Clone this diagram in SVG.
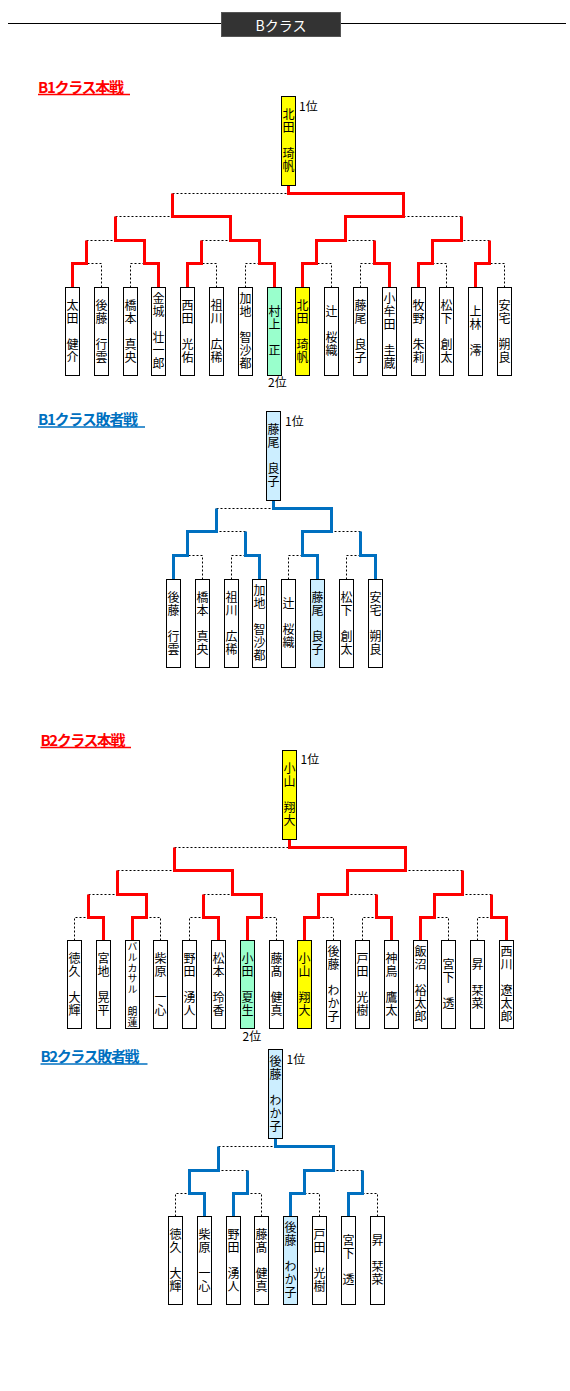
<svg xmlns="http://www.w3.org/2000/svg" width="570" height="1391" viewBox="0 0 570 1391">
<style>
.dot{stroke:#000;stroke-width:1;stroke-dasharray:2,2;fill:none}
.r{stroke:#f00;stroke-width:3;fill:none;stroke-linejoin:miter}
.b{stroke:#0070c0;stroke-width:3;fill:none;stroke-linejoin:miter}
.bx{stroke:#000;stroke-width:1;fill:#fff}
.y{fill:#ffff00}.g{fill:#99ffcc}.lb{fill:#cceeff}
.nm{font-family:"Noto Sans CJK JP","Noto Sans CJK SC",sans-serif;font-size:12px;writing-mode:vertical-rl;text-anchor:middle;letter-spacing:1px;fill:#000}
.sm{font-size:10px;letter-spacing:0.8px}
.rk{font-family:"Noto Sans CJK JP",sans-serif;font-size:12px;fill:#000}
.tt{font-family:"Noto Sans CJK JP",sans-serif;font-size:15px;font-weight:bold}
</style>
<rect width="570" height="1391" fill="#fff"/>
<g id="header">
<line x1="8" y1="23.5" x2="566" y2="23.5" stroke="#000" stroke-width="1"/>
<rect x="221.5" y="12.5" width="119" height="24" fill="#333" stroke="#555"/>
<text x="281" y="30.5" text-anchor="middle" font-family="Noto Sans CJK JP,sans-serif" font-size="14" fill="#fff">Bクラス</text>
</g>

<g id="title-b1-main">
<text class="tt" x="38" y="92.5" fill="#f00" textLength="86" lengthAdjust="spacing">B1クラス本戦</text>
<line x1="38" y1="94.5" x2="130" y2="94.5" stroke="#f00" stroke-width="1.5"/>
</g>
<g id="title-b1-loser">
<text class="tt" x="38" y="425" fill="#0070c0" textLength="100" lengthAdjust="spacing">B1クラス敗者戦</text>
<line x1="38" y1="427" x2="145" y2="427" stroke="#0070c0" stroke-width="1.5"/>
</g>
<g id="title-b2-main">
<text class="tt" x="40.5" y="745.5" fill="#f00" textLength="85" lengthAdjust="spacing">B2クラス本戦</text>
<line x1="40.5" y1="747.5" x2="131" y2="747.5" stroke="#f00" stroke-width="1.5"/>
</g>
<g id="title-b2-loser">
<text class="tt" x="40.5" y="1062" fill="#0070c0" textLength="99" lengthAdjust="spacing">B2クラス敗者戦</text>
<line x1="40.5" y1="1064" x2="147.5" y2="1064" stroke="#0070c0" stroke-width="1.5"/>
</g>

<!-- ============ B1 main connectors ============ -->
<g id="connectors-b1-main">
<path class="dot" d="M101.5 287.5V263.5H86.5M130.5 287.5V263.5H144.5M216.5 287.5V263.5H201.5M245.5 287.5V263.5H259.5M331.5 287.5V263.5H316.5M360.5 287.5V263.5H374.5M446.5 287.5V263.5H432.5M504.5 287.5V263.5H489.5"/>
<path class="dot" d="M86.5 240.5H115.5M201.5 240.5H230.5M374.5 240.5H345.5M489.5 240.5H461.5M115.5 216.5H172.5M461.5 216.5H403.5M172.5 193.5H288.5"/>
<path class="r" d="M72.5 287.5V263.5H86.5V240.5"/>
<path class="r" d="M158.5 287.5V263.5H144.5V240.5H115.5V216.5"/>
<path class="r" d="M187.5 287.5V263.5H201.5V240.5"/>
<path class="r" d="M274.5 287.5V263.5H259.5V240.5H230.5V216.5H172.5V193.5"/>
<path class="r" d="M302.5 287.5V263.5H316.5V240.5H345.5V216.5H403.5V193.5H288.5V185.5"/>
<path class="r" d="M389.5 287.5V263.5H374.5V240.5"/>
<path class="r" d="M418.5 287.5V263.5H432.5V240.5H461.5V216.5"/>
<path class="r" d="M475.5 287.5V263.5H489.5V240.5"/>
</g>

<g id="b1m-champion"><rect class="bx y" x="281.5" y="96.5" width="14" height="89"/><text class="nm" x="288.5" y="141">北田　琦帆</text><text class="rk" x="299" y="110.5">1位</text></g>
<g id="b1m-p0"><rect class="bx" x="65.5" y="287.5" width="14" height="88"/><text class="nm" x="72.5" y="331.5">太田　健介</text></g>
<g id="b1m-p1"><rect class="bx" x="94.5" y="287.5" width="14" height="88"/><text class="nm" x="101.5" y="331.5">後藤　行雲</text></g>
<g id="b1m-p2"><rect class="bx" x="123.5" y="287.5" width="14" height="88"/><text class="nm" x="130.5" y="331.5">橋本　真央</text></g>
<g id="b1m-p3"><rect class="bx" x="151.5" y="287.5" width="14" height="88"/><text class="nm" x="158.5" y="331.5">金城　壮一郎</text></g>
<g id="b1m-p4"><rect class="bx" x="180.5" y="287.5" width="14" height="88"/><text class="nm" x="187.5" y="331.5">西田　光佑</text></g>
<g id="b1m-p5"><rect class="bx" x="209.5" y="287.5" width="14" height="88"/><text class="nm" x="216.5" y="331.5">祖川　広稀</text></g>
<g id="b1m-p6"><rect class="bx" x="238.5" y="287.5" width="14" height="88"/><text class="nm" x="245.5" y="331.5">加地　智沙都</text></g>
<g id="b1m-p7"><rect class="bx g" x="267.5" y="287.5" width="14" height="88"/><text class="nm" x="274.5" y="331.5">村上　正</text><text class="rk" x="268" y="386.5">2位</text></g>
<g id="b1m-p8"><rect class="bx y" x="295.5" y="287.5" width="14" height="88"/><text class="nm" x="302.5" y="331.5">北田　琦帆</text></g>
<g id="b1m-p9"><rect class="bx" x="324.5" y="287.5" width="14" height="88"/><text class="nm" x="331.5" y="331.5">辻　桜織</text></g>
<g id="b1m-p10"><rect class="bx" x="353.5" y="287.5" width="14" height="88"/><text class="nm" x="360.5" y="331.5">藤尾　良子</text></g>
<g id="b1m-p11"><rect class="bx" x="382.5" y="287.5" width="14" height="88"/><text class="nm" x="389.5" y="331.5">小牟田　圭蔵</text></g>
<g id="b1m-p12"><rect class="bx" x="411.5" y="287.5" width="14" height="88"/><text class="nm" x="418.5" y="331.5">牧野　朱莉</text></g>
<g id="b1m-p13"><rect class="bx" x="439.5" y="287.5" width="14" height="88"/><text class="nm" x="446.5" y="331.5">松下　創太</text></g>
<g id="b1m-p14"><rect class="bx" x="468.5" y="287.5" width="14" height="88"/><text class="nm" x="475.5" y="331.5">上林　澪</text></g>
<g id="b1m-p15"><rect class="bx" x="497.5" y="287.5" width="14" height="88"/><text class="nm" x="504.5" y="331.5">安宅　朔良</text></g>

<!-- ============ B1 loser connectors ============ -->
<g id="connectors-b1-loser">
<path class="dot" d="M202.5 579.5V555.5H187.5M231.5 579.5V555.5H245.5M288.5 579.5V555.5H302.5M346.5 579.5V555.5H360.5"/>
<path class="dot" d="M245.5 531.5H216.5M360.5 531.5H331.5M216.5 508.5H273.5"/>
<path class="b" d="M173.5 579.5V555.5H187.5V531.5H216.5V508.5"/>
<path class="b" d="M259.5 579.5V555.5H245.5V531.5"/>
<path class="b" d="M317.5 579.5V555.5H302.5V531.5H331.5V508.5H273.5V500.5"/>
<path class="b" d="M375.5 579.5V555.5H360.5V531.5"/>
</g>

<g id="b1l-champion"><rect class="bx lb" x="266.5" y="411.5" width="14" height="89"/><text class="nm" x="273.5" y="456">藤尾　良子</text><text class="rk" x="285" y="426">1位</text></g>
<g id="b1l-p0"><rect class="bx" x="166.5" y="579.5" width="14" height="88"/><text class="nm" x="173.5" y="623.5">後藤　行雲</text></g>
<g id="b1l-p1"><rect class="bx" x="195.5" y="579.5" width="14" height="88"/><text class="nm" x="202.5" y="623.5">橋本　真央</text></g>
<g id="b1l-p2"><rect class="bx" x="224.5" y="579.5" width="14" height="88"/><text class="nm" x="231.5" y="623.5">祖川　広稀</text></g>
<g id="b1l-p3"><rect class="bx" x="252.5" y="579.5" width="14" height="88"/><text class="nm" x="259.5" y="623.5">加地　智沙都</text></g>
<g id="b1l-p4"><rect class="bx" x="281.5" y="579.5" width="14" height="88"/><text class="nm" x="288.5" y="623.5">辻　桜織</text></g>
<g id="b1l-p5"><rect class="bx lb" x="310.5" y="579.5" width="14" height="88"/><text class="nm" x="317.5" y="623.5">藤尾　良子</text></g>
<g id="b1l-p6"><rect class="bx" x="339.5" y="579.5" width="14" height="88"/><text class="nm" x="346.5" y="623.5">松下　創太</text></g>
<g id="b1l-p7"><rect class="bx" x="368.5" y="579.5" width="14" height="88"/><text class="nm" x="375.5" y="623.5">安宅　朔良</text></g>

<!-- ============ B2 main connectors ============ -->
<g id="connectors-b2-main">
<path class="dot" d="M74.5 940.5V917.5H88.5M160.5 940.5V917.5H146.5M189.5 940.5V917.5H203.5M276.5 940.5V917.5H261.5M333.5 940.5V917.5H318.5M362.5 940.5V917.5H376.5M448.5 940.5V917.5H434.5M477.5 940.5V917.5H491.5"/>
<path class="dot" d="M88.5 894.5H117.5M203.5 894.5H232.5M376.5 894.5H347.5M491.5 894.5H462.5M117.5 870.5H174.5M462.5 870.5H405.5M174.5 847.5H289.5"/>
<path class="r" d="M103.5 940.5V917.5H88.5V894.5"/>
<path class="r" d="M132.5 940.5V917.5H146.5V894.5H117.5V870.5"/>
<path class="r" d="M218.5 940.5V917.5H203.5V894.5"/>
<path class="r" d="M247.5 940.5V917.5H261.5V894.5H232.5V870.5H174.5V847.5"/>
<path class="r" d="M304.5 940.5V917.5H318.5V894.5H347.5V870.5H405.5V847.5H289.5V839.5"/>
<path class="r" d="M391.5 940.5V917.5H376.5V894.5"/>
<path class="r" d="M420.5 940.5V917.5H434.5V894.5H462.5V870.5"/>
<path class="r" d="M506.5 940.5V917.5H491.5V894.5"/>
</g>

<g id="b2m-champion"><rect class="bx y" x="282.5" y="750.5" width="14" height="89"/><text class="nm" x="289.5" y="795">小山　翔大</text><text class="rk" x="300.5" y="764">1位</text></g>
<g id="b2m-p0"><rect class="bx" x="67.5" y="940.5" width="14" height="88"/><text class="nm" x="74.5" y="984.5">徳久　大輝</text></g>
<g id="b2m-p1"><rect class="bx" x="96.5" y="940.5" width="14" height="88"/><text class="nm" x="103.5" y="984.5">宮地　晃平</text></g>
<g id="b2m-p2"><rect class="bx" x="125.5" y="940.5" width="14" height="88"/><text class="nm sm" x="132.5" y="984.5">バルカサル　朗蓮</text></g>
<g id="b2m-p3"><rect class="bx" x="153.5" y="940.5" width="14" height="88"/><text class="nm" x="160.5" y="984.5">柴原　一心</text></g>
<g id="b2m-p4"><rect class="bx" x="182.5" y="940.5" width="14" height="88"/><text class="nm" x="189.5" y="984.5">野田　湧人</text></g>
<g id="b2m-p5"><rect class="bx" x="211.5" y="940.5" width="14" height="88"/><text class="nm" x="218.5" y="984.5">松本　玲香</text></g>
<g id="b2m-p6"><rect class="bx g" x="240.5" y="940.5" width="14" height="88"/><text class="nm" x="247.5" y="984.5">小田　夏生</text><text class="rk" x="242.5" y="1041">2位</text></g>
<g id="b2m-p7"><rect class="bx" x="269.5" y="940.5" width="14" height="88"/><text class="nm" x="276.5" y="984.5">藤髙　健真</text></g>
<g id="b2m-p8"><rect class="bx y" x="297.5" y="940.5" width="14" height="88"/><text class="nm" x="304.5" y="984.5">小山　翔大</text></g>
<g id="b2m-p9"><rect class="bx" x="326.5" y="940.5" width="14" height="88"/><text class="nm" x="333.5" y="984.5">後藤　わか子</text></g>
<g id="b2m-p10"><rect class="bx" x="355.5" y="940.5" width="14" height="88"/><text class="nm" x="362.5" y="984.5">戸田　光樹</text></g>
<g id="b2m-p11"><rect class="bx" x="384.5" y="940.5" width="14" height="88"/><text class="nm" x="391.5" y="984.5">神鳥　鷹太</text></g>
<g id="b2m-p12"><rect class="bx" x="413.5" y="940.5" width="14" height="88"/><text class="nm" x="420.5" y="984.5">飯沼　裕太郎</text></g>
<g id="b2m-p13"><rect class="bx" x="441.5" y="940.5" width="14" height="88"/><text class="nm" x="448.5" y="984.5">宮下　透</text></g>
<g id="b2m-p14"><rect class="bx" x="470.5" y="940.5" width="14" height="88"/><text class="nm" x="477.5" y="984.5">昇　栞菜</text></g>
<g id="b2m-p15"><rect class="bx" x="499.5" y="940.5" width="14" height="88"/><text class="nm" x="506.5" y="984.5">西川　遼太郎</text></g>

<!-- ============ B2 loser connectors ============ -->
<g id="connectors-b2-loser">
<path class="dot" d="M175.5 1216.5V1193.5H189.5M261.5 1216.5V1193.5H247.5M319.5 1216.5V1193.5H304.5M377.5 1216.5V1193.5H362.5"/>
<path class="dot" d="M247.5 1170.5H218.5M362.5 1170.5H333.5M218.5 1146.5H275.5"/>
<path class="b" d="M204.5 1216.5V1193.5H189.5V1170.5H218.5V1146.5"/>
<path class="b" d="M233.5 1216.5V1193.5H247.5V1170.5"/>
<path class="b" d="M290.5 1216.5V1193.5H304.5V1170.5H333.5V1146.5H275.5V1138.5"/>
<path class="b" d="M348.5 1216.5V1193.5H362.5V1170.5"/>
</g>

<g id="b2l-champion"><rect class="bx lb" x="268.5" y="1049.5" width="14" height="89"/><text class="nm" x="275.5" y="1094">後藤　わか子</text><text class="rk" x="286.5" y="1064">1位</text></g>
<g id="b2l-p0"><rect class="bx" x="168.5" y="1216.5" width="14" height="88"/><text class="nm" x="175.5" y="1260.5">徳久　大輝</text></g>
<g id="b2l-p1"><rect class="bx" x="197.5" y="1216.5" width="14" height="88"/><text class="nm" x="204.5" y="1260.5">柴原　一心</text></g>
<g id="b2l-p2"><rect class="bx" x="226.5" y="1216.5" width="14" height="88"/><text class="nm" x="233.5" y="1260.5">野田　湧人</text></g>
<g id="b2l-p3"><rect class="bx" x="254.5" y="1216.5" width="14" height="88"/><text class="nm" x="261.5" y="1260.5">藤髙　健真</text></g>
<g id="b2l-p4"><rect class="bx lb" x="283.5" y="1216.5" width="14" height="88"/><text class="nm" x="290.5" y="1260.5">後藤　わか子</text></g>
<g id="b2l-p5"><rect class="bx" x="312.5" y="1216.5" width="14" height="88"/><text class="nm" x="319.5" y="1260.5">戸田　光樹</text></g>
<g id="b2l-p6"><rect class="bx" x="341.5" y="1216.5" width="14" height="88"/><text class="nm" x="348.5" y="1260.5">宮下　透</text></g>
<g id="b2l-p7"><rect class="bx" x="370.5" y="1216.5" width="14" height="88"/><text class="nm" x="377.5" y="1260.5">昇　栞菜</text></g>
</svg>
